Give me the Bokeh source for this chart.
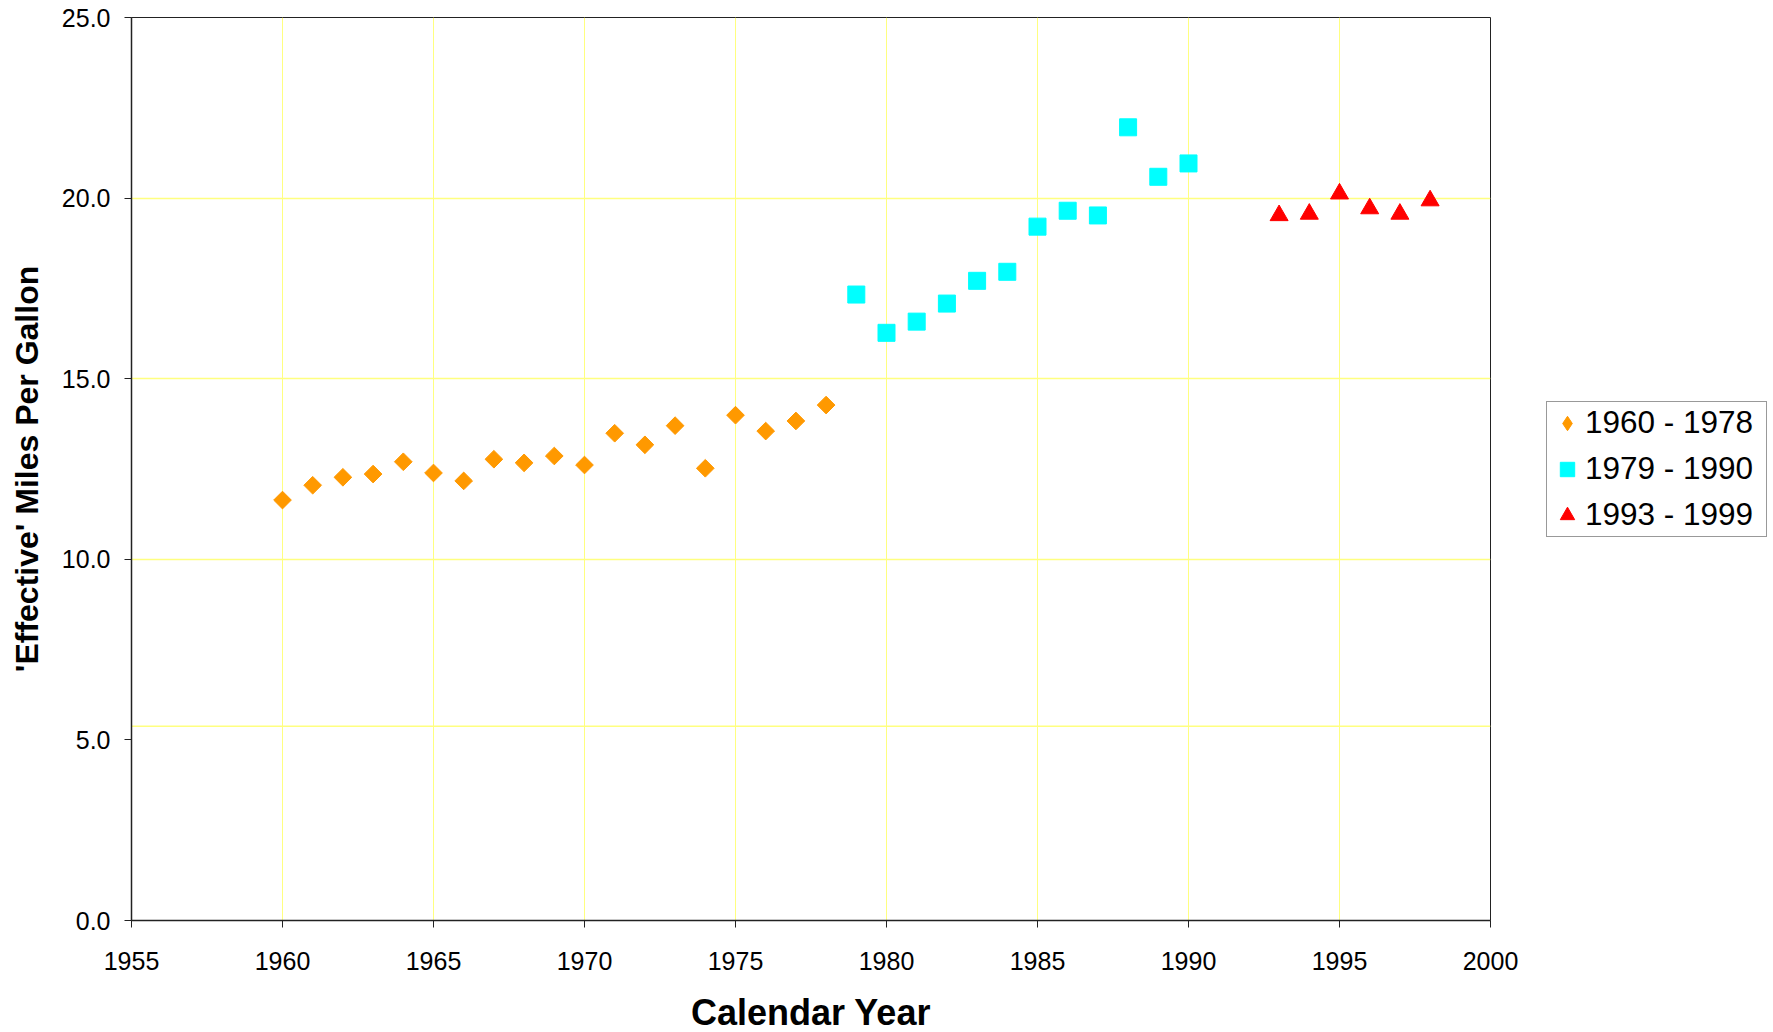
from bokeh.plotting import figure
from bokeh.models import Legend, LegendItem, Span, FixedTicker, NumeralTickFormatter, Range1d
from bokeh.embed import file_html
from bokeh.resources import INLINE
import math

# ---- data ----
years_a = list(range(1960, 1979))
mpg_a = [11.64, 12.05, 12.27, 12.36, 12.70, 12.39, 12.17, 12.77, 12.67, 12.86,
         12.61, 13.49, 13.17, 13.70, 12.52, 13.99, 13.55, 13.83, 14.27]
years_b = list(range(1979, 1991))
mpg_b = [17.33, 16.27, 16.58, 17.08, 17.71, 17.96, 19.21, 19.65, 19.52, 21.96, 20.59, 20.96]
years_c = [1993, 1994, 1995, 1996, 1997, 1998]
mpg_c = [19.52, 19.56, 20.12, 19.71, 19.56, 19.93]
labels = ["1960 - 1978", "1979 - 1990", "1993 - 1999"]
x_ticks = [1955, 1960, 1965, 1970, 1975, 1980, 1985, 1990, 1995, 2000]
y_ticks = [0, 5, 10, 15, 20, 25]

FONT = "Liberation Sans"
ORANGE, CYAN, RED = "#FF9900", "#00FFFF", "#FF0000"
NAN = float("nan")

p = figure(frame_width=1359, frame_height=903, output_backend="svg", toolbar_location=None,
           x_range=Range1d(1955, 2000), y_range=Range1d(0, 25),
           min_border_left=131, min_border_right=0, min_border_top=17, min_border_bottom=100)
p.background_fill_color = "white"
p.outline_line_color = "#222222"
p.outline_line_width = 1

p.xaxis.ticker = FixedTicker(ticks=x_ticks)
p.yaxis.ticker = FixedTicker(ticks=y_ticks)
p.yaxis.formatter = NumeralTickFormatter(format="0.0")
for ax in (p.xaxis, p.yaxis):
    ax.axis_line_color = "#222222"
    ax.axis_line_width = 1.5
    ax.major_tick_line_color = "#222222"
    ax.major_tick_out = 7
    ax.major_tick_in = 0
    ax.minor_tick_line_color = None
    ax.major_label_text_font = FONT
    ax.major_label_text_font_size = "25px"
    ax.major_label_text_color = "black"
    ax.axis_label_text_font = FONT
    ax.axis_label_text_font_style = "bold"
    ax.axis_label_text_color = "black"
p.xaxis.axis_label = "Calendar Year"
p.xaxis.axis_label_text_font_size = "36px"
p.xaxis.major_label_standoff = 24
p.xaxis.axis_label_standoff = 19
p.yaxis.axis_label = "'Effective' Miles Per Gallon"
p.yaxis.axis_label_text_font_size = "32px"
p.yaxis.major_label_standoff = 14
p.yaxis.axis_label_standoff = 14

p.xgrid.ticker = FixedTicker(ticks=x_ticks)
p.xgrid.grid_line_color = "#FFFF80"
p.xgrid.grid_line_width = 1
p.ygrid.ticker = FixedTicker(ticks=[10, 15, 20, 25])
p.ygrid.grid_line_color = "#FFFF80"
p.ygrid.grid_line_width = 1.5
# displaced lower gridline as seen in the reference
p.add_layout(Span(location=5.38, dimension="width", line_color="#FFFF80", line_width=1.5, level="underlay"))

r_a = p.scatter(years_a, mpg_a, marker="square", angle=math.pi / 4, size=12.5,
                fill_color=ORANGE, line_color=ORANGE)
r_b = p.scatter(years_b, mpg_b, marker="square", size=17,
                fill_color=CYAN, line_color=CYAN)
r_c = p.scatter(years_c, mpg_c, marker="triangle", size=18,
                fill_color=RED, line_color=RED)
# legend-only key for the diamond series (not drawn in the plot area)
r_a_key = p.scatter([NAN], [NAN], marker="diamond", fill_color=ORANGE, line_color=ORANGE)

legend = Legend(items=[LegendItem(label=labels[0], renderers=[r_a_key]),
                       LegendItem(label=labels[1], renderers=[r_b]),
                       LegendItem(label=labels[2], renderers=[r_c])],
                location="center_left")
legend.label_text_font = FONT
legend.label_text_font_size = "31.5px"
legend.label_text_color = "black"
legend.border_line_color = "#333333"
legend.border_line_width = 1
legend.background_fill_color = "white"
legend.background_fill_alpha = 1
legend.glyph_width = 36
legend.glyph_height = 36
legend.label_width = 179
legend.label_height = 38
legend.label_standoff = 0
legend.spacing = 8
legend.padding = 2
legend.margin = 56
p.add_layout(legend, "right")

open("out.html", "w").write(file_html(p, INLINE))
